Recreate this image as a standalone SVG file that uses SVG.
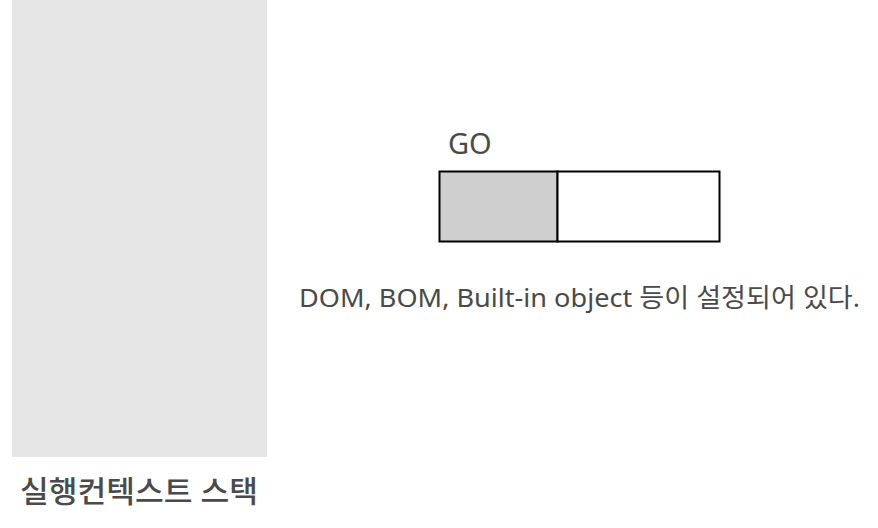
<svg xmlns="http://www.w3.org/2000/svg" width="878" height="528" viewBox="0 0 878 528">
<style>
.t{font-family:"Noto Sans","Noto Sans CJK KR",sans-serif;fill:#4a4a4a}
.b{stroke:#000;stroke-width:2}
</style>
<rect width="878" height="528" fill="#fff"/>
<g id="stack">
<rect x="12" y="0" width="255" height="457" fill="#e6e6e6"/>
<text class="t" x="20" y="502" font-size="30" font-weight="500" fill="#505050" textLength="238" lengthAdjust="spacingAndGlyphs">실행컨텍스트 스택</text>
</g>
<g id="go">
<text class="t" x="448" y="154" font-size="29">GO</text>
<rect class="b" x="439.5" y="171.5" width="118" height="70" fill="#d0cfd0"/>
<rect class="b" x="557.5" y="171.5" width="162" height="70" fill="#fff"/>
</g>
<g id="desc">
<text class="t" x="299" y="307" font-size="26" textLength="561" lengthAdjust="spacingAndGlyphs">DOM, BOM, Built-in object 등이 설정되어 있다.</text>
</g>
<g id="connectors"/>
</svg>
